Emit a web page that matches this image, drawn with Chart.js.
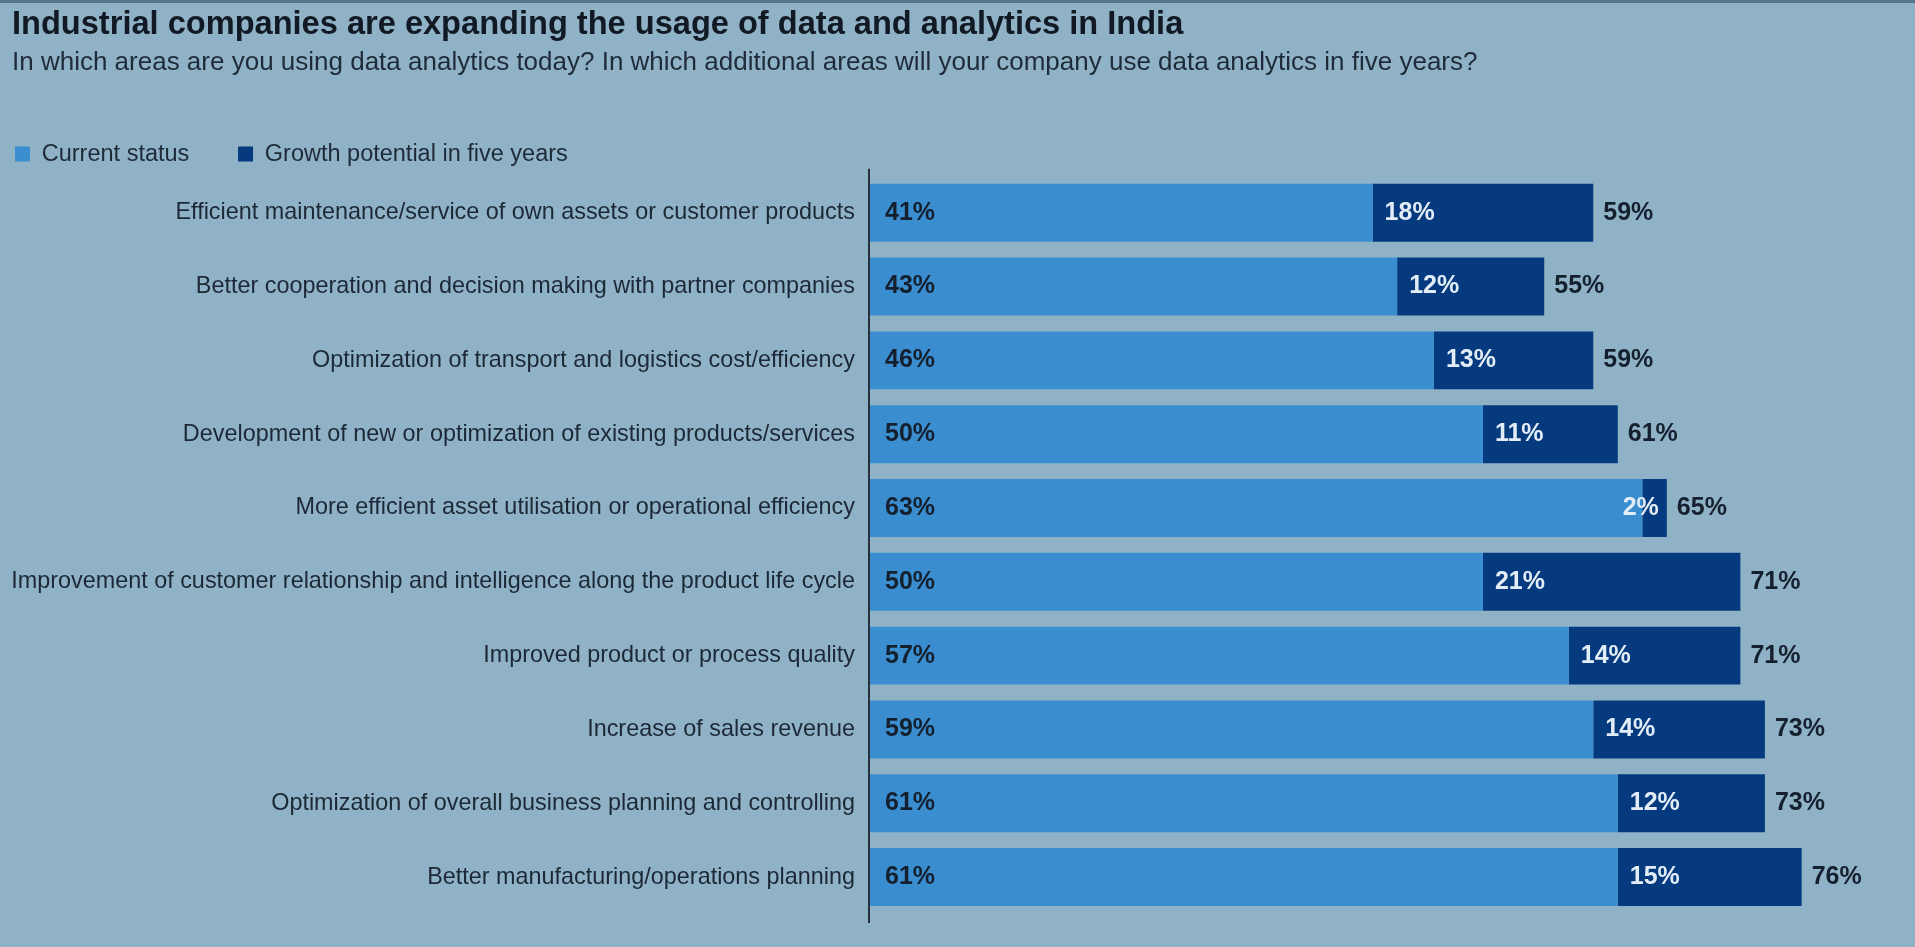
<!DOCTYPE html>
<html>
<head>
<meta charset="utf-8">
<title>Industrial companies are expanding the usage of data and analytics in India</title>
<script src="https://cdn.jsdelivr.net/npm/chart.js@4.4.1/dist/chart.umd.min.js"></script>
<style>
  html, body { margin: 0; padding: 0; background: #8fb2c6; }
  body { width: 1915px; height: 947px; overflow: hidden; box-shadow: inset 0 3px 0 #54758a; }
  canvas { display: block; }
</style>
</head>
<body>
<canvas id="chart" width="1915" height="947"></canvas>
<script>
const categories = [
    'Efficient maintenance/service of own assets or customer products',
    'Better cooperation and decision making with partner companies',
    'Optimization of transport and logistics cost/efficiency',
    'Development of new or optimization of existing products/services',
    'More efficient asset utilisation or operational efficiency',
    'Improvement of customer relationship and intelligence along the product life cycle',
    'Improved product or process quality',
    'Increase of sales revenue',
    'Optimization of overall business planning and controlling',
    'Better manufacturing/operations planning'
];
const currentStatus = [41, 43, 46, 50, 63, 50, 57, 59, 61, 61];
const growthPotential = [18, 12, 13, 11, 2, 21, 14, 14, 12, 15];
const totalLabels = ['59%', '55%', '59%', '61%', '65%', '71%', '71%', '73%', '73%', '76%'];
const seriesNames = ['Current status', 'Growth potential in five years'];
const seriesColors = ['#3a8ecf', '#053b7e'];

const FONT = '"Liberation Sans", Arial, sans-serif';
const DARK = '#15202f';

// value labels inside and after the bars
const valueLabels = {
    id: 'valueLabels',
    afterDatasetsDraw(chart) {
        const ctx = chart.ctx;
        const cur = chart.getDatasetMeta(0).data;
        const grow = chart.getDatasetMeta(1).data;
        ctx.save();
        ctx.font = 'bold 25px ' + FONT;
        ctx.textBaseline = 'middle';
        cur.forEach((bar, i) => {
            ctx.fillStyle = DARK;
            ctx.textAlign = 'left';
            ctx.fillText(currentStatus[i] + '%', bar.base + 15, bar.y);

            const g = grow[i];
            const txt = growthPotential[i] + '%';
            const w = ctx.measureText(txt).width;
            ctx.fillStyle = '#e3edf7';
            if (w + 16 > g.x - g.base) {
                ctx.textAlign = 'right';
                ctx.fillText(txt, g.x - 8, g.y);
            } else {
                ctx.textAlign = 'left';
                ctx.fillText(txt, g.base + 12, g.y);
            }

            ctx.fillStyle = DARK;
            ctx.textAlign = 'left';
            ctx.fillText(totalLabels[i], g.x + 10, g.y);
        });
        ctx.restore();
    }
};

// vertical axis line, a bit longer than the plot area like the original
const axisLine = {
    id: 'axisLine',
    afterDatasetsDraw(chart) {
        const { ctx, chartArea } = chart;
        ctx.save();
        ctx.strokeStyle = '#27313d';
        ctx.lineWidth = 2;
        ctx.beginPath();
        ctx.moveTo(chartArea.left - 1, chartArea.top - 7);
        ctx.lineTo(chartArea.left - 1, chartArea.bottom + 9);
        ctx.stroke();
        ctx.restore();
    }
};

new Chart(document.getElementById('chart'), {
    type: 'bar',
    data: {
        labels: categories,
        datasets: [
            { label: seriesNames[0], data: currentStatus, backgroundColor: seriesColors[0] },
            { label: seriesNames[1], data: growthPotential, backgroundColor: seriesColors[1] }
        ]
    },
    options: {
        indexAxis: 'y',
        responsive: false,
        animation: false,
        barPercentage: 0.785,
        categoryPercentage: 1,
        layout: { padding: { left: 12, right: 3, top: 0, bottom: 33 } },
        scales: {
            x: { stacked: true, min: 0, max: 85, display: false },
            y: {
                stacked: true,
                grid: { display: false, drawTicks: false },
                border: { display: false },
                ticks: {
                    autoSkip: false,
                    padding: 15,
                    color: '#1d2836',
                    font: { family: FONT, size: 23.4 }
                },
                afterFit(scale) { scale.width = 858; }
            }
        },
        plugins: {
            title: {
                display: true,
                text: 'Industrial companies are expanding the usage of data and analytics in India',
                align: 'start',
                color: '#111a24',
                font: { family: FONT, size: 32.6, weight: 'bold' },
                padding: { top: 5, bottom: 3 }
            },
            subtitle: {
                display: true,
                text: 'In which areas are you using data analytics today? In which additional areas will your company use data analytics in five years?',
                align: 'start',
                color: '#1f2b39',
                font: { family: FONT, size: 26 },
                padding: { top: 0, bottom: 61 }
            },
            legend: {
                position: 'top',
                align: 'start',
                labels: {
                    boxWidth: 15,
                    boxHeight: 15,
                    padding: 3,
                    color: '#1e2a38',
                    font: { family: FONT, size: 23.5 },
                    generateLabels(chart) {
                        const items = Chart.defaults.plugins.legend.labels.generateLabels(chart);
                        items.forEach((it, i) => {
                            it.lineWidth = 0;
                            if (i < items.length - 1) it.text = it.text + '       ';
                        });
                        return items;
                    }
                }
            },
            tooltip: { enabled: false }
        }
    },
    plugins: [valueLabels, axisLine]
});
</script>
</body>
</html>
